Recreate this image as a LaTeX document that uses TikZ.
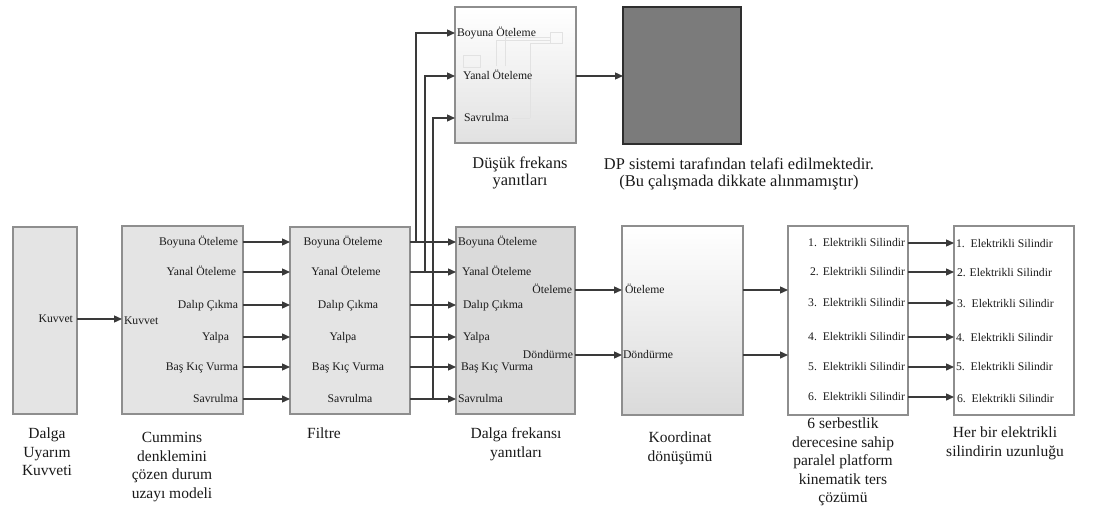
\documentclass[tikz,border=0pt]{standalone}
\usepackage{fontspec}
\setmainfont{Liberation Serif}
\usetikzlibrary{arrows.meta}

\definecolor{blkfill}{HTML}{E4E4E4}
\definecolor{blkfilldark}{HTML}{DADADA}
\definecolor{blkline}{HTML}{8E8E8E}
\definecolor{arrcol}{HTML}{3A3A3A}
\definecolor{dpfill}{HTML}{7B7B7B}
\definecolor{dpline}{HTML}{2E2E2E}
\definecolor{wire}{HTML}{E2E2E2}
\definecolor{txt}{HTML}{1A1A1A}

\begin{document}
\begin{tikzpicture}[x=1pt,y=-1pt,
  blk/.style={rectangle,draw=blkline,line width=1.3pt,inner sep=0pt,outer sep=0pt,anchor=north west},
  port/.style={inner sep=0pt,outer sep=0pt,text height=8.5pt,text depth=2pt,text=txt,
    font=\fontsize{11.7}{13}\selectfont},
  blkcaption/.style={inner sep=0pt,outer sep=0pt,anchor=north,align=center,text=txt,
    font=\fontsize{15.5}{18.5}\selectfont},
  topcaption/.style={blkcaption,font=\fontsize{16.4}{16.8}\selectfont},
  arr/.style={draw=arrcol,line width=1.3pt,-{Triangle[length=8pt,width=7pt]}},
  wires/.style={draw=wire,line width=0.9pt}
]
\useasboundingbox (0,0) rectangle (1095,517);
\fill[white] (0,0) rectangle (1095,517);

% ---- blocks ----
\node[blk,fill=blkfill,minimum width=64pt,minimum height=187pt] (b1) at (13,227) {};
\node[blk,fill=blkfill,minimum width=121pt,minimum height=188pt] (b2) at (122,226) {};
\node[blk,fill=blkfill,minimum width=120pt,minimum height=187pt] (b3) at (290,227) {};
\node[blk,fill=blkfilldark,minimum width=119pt,minimum height=187pt] (b4) at (456,227) {};
\node[blk,top color=white,bottom color=blkfilldark,minimum width=121pt,minimum height=189pt] (b5) at (622,226) {};
\node[blk,fill=white,minimum width=120pt,minimum height=189pt] (b6) at (788,226) {};
\node[blk,fill=white,minimum width=120pt,minimum height=189pt] (b7) at (954,226) {};
\node[blk,top color=white,bottom color=blkfilldark!80,minimum width=121pt,minimum height=136pt] (lf) at (455,7) {};
\node[blk,fill=dpfill,draw=dpline,line width=1.8pt,minimum width=118pt,minimum height=137pt] (dp) at (623,7) {};

% faint internal wiring of the low-frequency block
\draw[wires] (550,32) rectangle (562,43);
\draw[wires] (496,66) -- (496,40) -- (550,40);
\draw[wires] (505,66) -- (505,37) -- (550,37);
\draw[wires] (530,118) -- (530,43) -- (550,43);
\draw[wires] (512,118) -- (530,118);
\draw[wires] (463,55) rectangle (480,67);

% ---- port labels ----
\node[port,anchor=east] (k1) at (73,319) {Kuvvet};

\node[port,anchor=west] (k2) at (124,321) {Kuvvet};
\node[port,anchor=east] (o1) at (238,242) {Boyuna Öteleme};
\node[port,anchor=east] (o2) at (236,272) {Yanal Öteleme};
\node[port,anchor=east] (o3) at (238,305) {Dalıp Çıkma};
\node[port,anchor=east] (o4) at (229,337) {Yalpa};
\node[port,anchor=east] (o5) at (238,367) {Baş Kıç Vurma};
\node[port,anchor=east] (o6) at (238,399) {Savrulma};

\node[port] (f1) at (343,242) {Boyuna Öteleme};
\node[port] (f2) at (346,272) {Yanal Öteleme};
\node[port] (f3) at (348,305) {Dalıp Çıkma};
\node[port] (f4) at (343,337) {Yalpa};
\node[port] (f5) at (348,367) {Baş Kıç Vurma};
\node[port] (f6) at (350,399) {Savrulma};

\node[port,anchor=west] (w1) at (458,242) {Boyuna Öteleme};
\node[port,anchor=west] (w2) at (462,272) {Yanal Öteleme};
\node[port,anchor=west] (w3) at (463,305) {Dalıp Çıkma};
\node[port,anchor=west] (w4) at (463,337) {Yalpa};
\node[port,anchor=west] (w5) at (461,367) {Baş Kıç Vurma};
\node[port,anchor=west] (w6) at (458,399) {Savrulma};
\node[port,anchor=east] (w7) at (572,290) {Öteleme};
\node[port,anchor=east] (w8) at (573,355) {Döndürme};

\node[port,anchor=west] (g1) at (457,33) {Boyuna Öteleme};
\node[port,anchor=west] (g2) at (463,76) {Yanal Öteleme};
\node[port,anchor=west] (g3) at (464,118) {Savrulma};

\node[port,anchor=west] (c1) at (625,290) {Öteleme};
\node[port,anchor=west] (c2) at (623,355) {Döndürme};

\node[port,anchor=east] (e1) at (905,243) {1.\ \ Elektrikli Silindir};
\node[port,anchor=east] (e2) at (905,272) {2. Elektrikli Silindir};
\node[port,anchor=east] (e3) at (905,303) {3.\ \ Elektrikli Silindir};
\node[port,anchor=east] (e4) at (905,337) {4.\ \ Elektrikli Silindir};
\node[port,anchor=east] (e5) at (905,367) {5.\ \ Elektrikli Silindir};
\node[port,anchor=east] (e6) at (905,397) {6.\ \ Elektrikli Silindir};

\node[port,anchor=west] (s1) at (956,244) {1.\ \ Elektrikli Silindir};
\node[port,anchor=west] (s2) at (957,273) {2. Elektrikli Silindir};
\node[port,anchor=west] (s3) at (957,304) {3.\ \ Elektrikli Silindir};
\node[port,anchor=west] (s4) at (956,338) {4.\ \ Elektrikli Silindir};
\node[port,anchor=west] (s5) at (956,367) {5.\ \ Elektrikli Silindir};
\node[port,anchor=west] (s6) at (957,399) {6.\ \ Elektrikli Silindir};

% ---- captions ----
\node[blkcaption] (d1) at (47,426) {\strut Dalga\\Uyarım\\Kuvveti};
\node[blkcaption] (d2) at (172,430) {\strut Cummins\\denklemini\\çözen durum\\uzayı modeli};
\node[blkcaption] (d3) at (324,426) {\strut Filtre};
\node[blkcaption] (d4) at (516,426) {\strut Dalga frekansı\\yanıtları};
\node[blkcaption] (d5) at (680,430) {\strut Koordinat\\dönüşümü};
\node[blkcaption] (d6) at (843,416) {\strut 6 serbestlik\\derecesine sahip\\paralel platform\\kinematik ters\\çözümü};
\node[blkcaption] (d7) at (1005,425) {\strut Her bir elektrikli\\silindirin uzunluğu};
\node[topcaption] (t1) at (520,156.5) {\strut Düşük frekans\\yanıtları};
\node[topcaption] (t2) at (739,158) {\strut DP sistemi tarafından telafi edilmektedir.\\(Bu çalışmada dikkate alınmamıştır)};

% ---- connectors ----
\draw[arr] (b1.east |- k1) -- (b2.west |- k1);
\foreach \i in {1,...,6} {
  \draw[arr] (b2.east |- o\i) -- (b3.west |- o\i);
  \draw[arr] (b3.east |- f\i) -- (b4.west |- f\i);
  \draw[arr] (b6.east |- e\i) -- (b7.west |- e\i);
}
% branches to the low-frequency block
\coordinate (j1) at (416,0);
\coordinate (j2) at (425,0);
\coordinate (j3) at (433,0);
\draw[arr] (j1 |- f1) -- (j1 |- g1) -- (lf.west |- g1);
\draw[arr] (j2 |- f2) -- (j2 |- g2) -- (lf.west |- g2);
\draw[arr] (j3 |- f6) -- (j3 |- g3) -- (lf.west |- g3);
\draw[arr] (lf.east |- g2) -- (dp.west |- g2);

\draw[arr] (b4.east |- c1) -- (b5.west |- c1);
\draw[arr] (b4.east |- c2) -- (b5.west |- c2);
\draw[arr] (b5.east |- c1) -- (b6.west |- c1);
\draw[arr] (b5.east |- c2) -- (b6.west |- c2);
\end{tikzpicture}
\end{document}
